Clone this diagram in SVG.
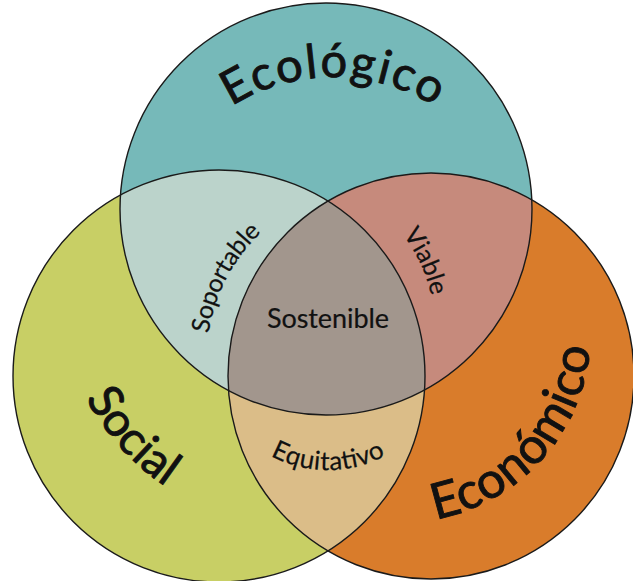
<svg xmlns="http://www.w3.org/2000/svg" width="633" height="581" viewBox="0 0 633 581">
<style>
.lbl{font-family:"Lato","Open Sans",sans-serif;fill:#111;}
.big{font-size:47px;stroke:#111;stroke-width:0.9;}
.sm{font-size:25px;stroke:#111;stroke-width:0.2;}
.edge{fill:none;stroke:#1a1a1a;stroke-width:1.4;}
</style>
<defs>
<clipPath id="cT"><circle cx="326" cy="209" r="206"/></clipPath>
<clipPath id="cS"><circle cx="219" cy="376" r="206"/></clipPath>
<clipPath id="cE"><circle cx="431" cy="376" r="203"/></clipPath>
<path id="pEco" d="M145.9,234 A190,190 0 0 1 520.1,234"/>
<path id="pEcon" d="M303,497.3 A192,192 0 0 0 546.1,207.6"/>
<path id="pSoc" d="M56,280 A250,250 0 0 0 306,530"/>
<path id="pSop" d="M209.6,387.9 A172,172 0 0 1 320.2,196.4"/>
<path id="pVia" d="M306.1,175.9 A156,156 0 0 1 414.1,407.5"/>
<path id="pEqu" d="M212.4,389.1 A123,123 0 0 0 443.6,389.1"/>
</defs>
<g id="regions">
<circle cx="326" cy="209" r="206" fill="#76b9b9"/>
<circle cx="219" cy="376" r="206" fill="#c8cf65"/>
<circle cx="431" cy="376" r="203" fill="#d97c2b"/>
<g clip-path="url(#cT)"><circle cx="219" cy="376" r="206" fill="#bbd3cb"/></g>
<g clip-path="url(#cT)"><circle cx="431" cy="376" r="203" fill="#c68a7c"/></g>
<g clip-path="url(#cS)"><circle cx="431" cy="376" r="203" fill="#dbbd88"/></g>
<g clip-path="url(#cT)"><g clip-path="url(#cS)"><circle cx="431" cy="376" r="203" fill="#a2968d"/></g></g>
</g>
<g id="ecologico">
<circle class="edge" cx="326" cy="209" r="206"/>
<text class="lbl big" text-anchor="middle"><textPath href="#pEco" startOffset="50%" textLength="214">Ecológico</textPath></text>
</g>
<g id="social">
<circle class="edge" cx="219" cy="376" r="206"/>
<text class="lbl big" text-anchor="middle"><textPath href="#pSoc" startOffset="46.7%" textLength="120">Social</textPath></text>
</g>
<g id="economico">
<circle class="edge" cx="431" cy="376" r="203"/>
<text class="lbl big" style="font-size:50px" text-anchor="middle"><textPath href="#pEcon" startOffset="48.75%" textLength="248">Económico</textPath></text>
</g>
<g id="soportable">
<text class="lbl sm" text-anchor="middle"><textPath href="#pSop" startOffset="46.9%" textLength="116">Soportable</textPath></text>
</g>
<g id="viable">
<text class="lbl sm" text-anchor="middle"><textPath href="#pVia" startOffset="50%" textLength="68">Viable</textPath></text>
</g>
<g id="equitativo">
<text class="lbl sm" text-anchor="middle" style="font-size:26px"><textPath href="#pEqu" startOffset="50%" textLength="120">Equitativo</textPath></text>
</g>
<g id="sostenible">
<text class="lbl sm" x="328" y="328" style="font-size:27px" text-anchor="middle" textLength="122">Sostenible</text>
</g>
<g id="connectors"></g>
</svg>
